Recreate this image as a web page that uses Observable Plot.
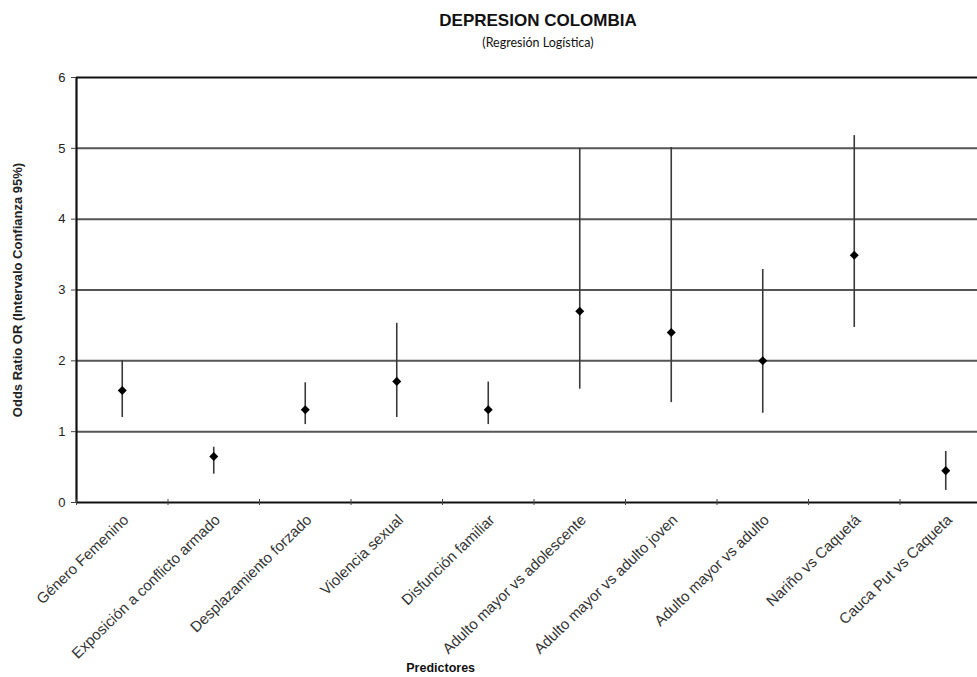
<!DOCTYPE html>
<html>
<head>
<meta charset="utf-8">
<script src="https://cdn.jsdelivr.net/npm/d3@7"></script>
<script src="https://cdn.jsdelivr.net/npm/@observablehq/plot@0.6"></script>
<style>
  html, body { margin: 0; padding: 0; background: #fff; }
  #wrap { position: relative; width: 977px; height: 677px; overflow: hidden; }
  #title { position: absolute; left: 0; top: 11px; width: 1076px; text-align: center;
           font-family: "Liberation Sans Narrow", "Liberation Sans", sans-serif; font-weight: bold; font-size: 17px; color: #111; }
  #subtitle { position: absolute; left: 0; top: 35px; width: 1076px; text-align: center;
           font-family: Lato, "Open Sans", sans-serif; font-size: 12.5px; color: #111; }
  #chart { position: absolute; left: 0; top: 60px; }
</style>
</head>
<body>
<div id="wrap">
  <div id="title">DEPRESION COLOMBIA</div>
  <div id="subtitle">(Regresión Logística)</div>
  <div id="chart"></div>
</div>
<script>
const categories = [
  "Género Femenino",
  "Exposición a conflicto armado",
  "Desplazamiento forzado",
  "Violencia sexual",
  "Disfunción familiar",
  "Adulto mayor vs adolescente",
  "Adulto mayor vs adulto joven",
  "Adulto mayor vs adulto",
  "Nariño vs Caquetá",
  "Cauca Put vs Caqueta"
];
const oddsRatio = [1.58, 0.65, 1.31, 1.71, 1.31, 2.70, 2.40, 2.00, 3.49, 0.45];
const ciLow     = [1.20, 0.40, 1.10, 1.20, 1.10, 1.60, 1.41, 1.26, 2.47, 0.17];
const ciHigh    = [2.00, 0.78, 1.69, 2.53, 1.70, 5.00, 5.01, 3.29, 5.18, 0.72];
const yTicks = [0, 1, 2, 3, 4, 5, 6];

const data = categories.map((c, i) => ({
  cat: c, pos: i + 0.5, or: oddsRatio[i], lo: ciLow[i], hi: ciHigh[i]
}));
const boundaries = d3.range(0, categories.length + 1);
const centers = data.map(d => d.pos);

const chart = Plot.plot({
  width: 995,
  height: 617,
  marginTop: 17,
  marginBottom: 175,
  marginLeft: 76,
  marginRight: 4,
  style: "max-width:none; font-family: 'Liberation Sans', Arial, sans-serif; color:#222; background:transparent;",
  x: { type: "linear", domain: [0, categories.length] },
  y: { domain: [0, 6] },
  marks: [
    Plot.gridY([1, 2, 3, 4, 5], { stroke: "#555", strokeWidth: 2, strokeOpacity: 1 }),
    Plot.ruleY([6], { stroke: "#111", strokeWidth: 2.2 }),
    Plot.ruleY([0], { stroke: "#111", strokeWidth: 2.2 }),
    Plot.ruleX([0], { stroke: "#111", strokeWidth: 2.2 }),
    Plot.axisY({ ticks: yTicks, tickFormat: "d", tickSize: 5, tickPadding: 6, fontSize: 13, stroke: "#444", fill: "#222",
      label: "Odds Ratio OR (Intervalo Confianza 95%)", labelAnchor: "center", labelArrow: false, labelOffset: 64 }),
    Plot.axisX({ ticks: boundaries, tickFormat: () => "", tickSize: 6, dy: -3, stroke: "#444", label: null }),
    Plot.axisX({ ticks: centers, tickFormat: d => categories[Math.round(d - 0.5)], tickSize: 0, tickPadding: 15,
      tickRotate: -44, fontSize: 15, fill: "#333", dx: 4, label: null }),
    Plot.ruleX(data, { x: "pos", y1: "lo", y2: "hi", stroke: "#3a3a3a", strokeWidth: 1.6 }),
    Plot.dot(data, { x: "pos", y: "or", symbol: "square", rotate: 45, fill: "#000", r: 3.6 }),
    Plot.text(["Predictores"], { frameAnchor: "bottom", x: 3.98, dy: 169, fontWeight: "bold", fontSize: 12.5, fill: "#111" })
  ]
});
chart.querySelectorAll("[aria-label='y-axis label'] text").forEach(t => {
  t.setAttribute("font-weight", "bold"); t.setAttribute("font-size", "13");
});
document.getElementById("chart").appendChild(chart);
</script>
</body>
</html>
